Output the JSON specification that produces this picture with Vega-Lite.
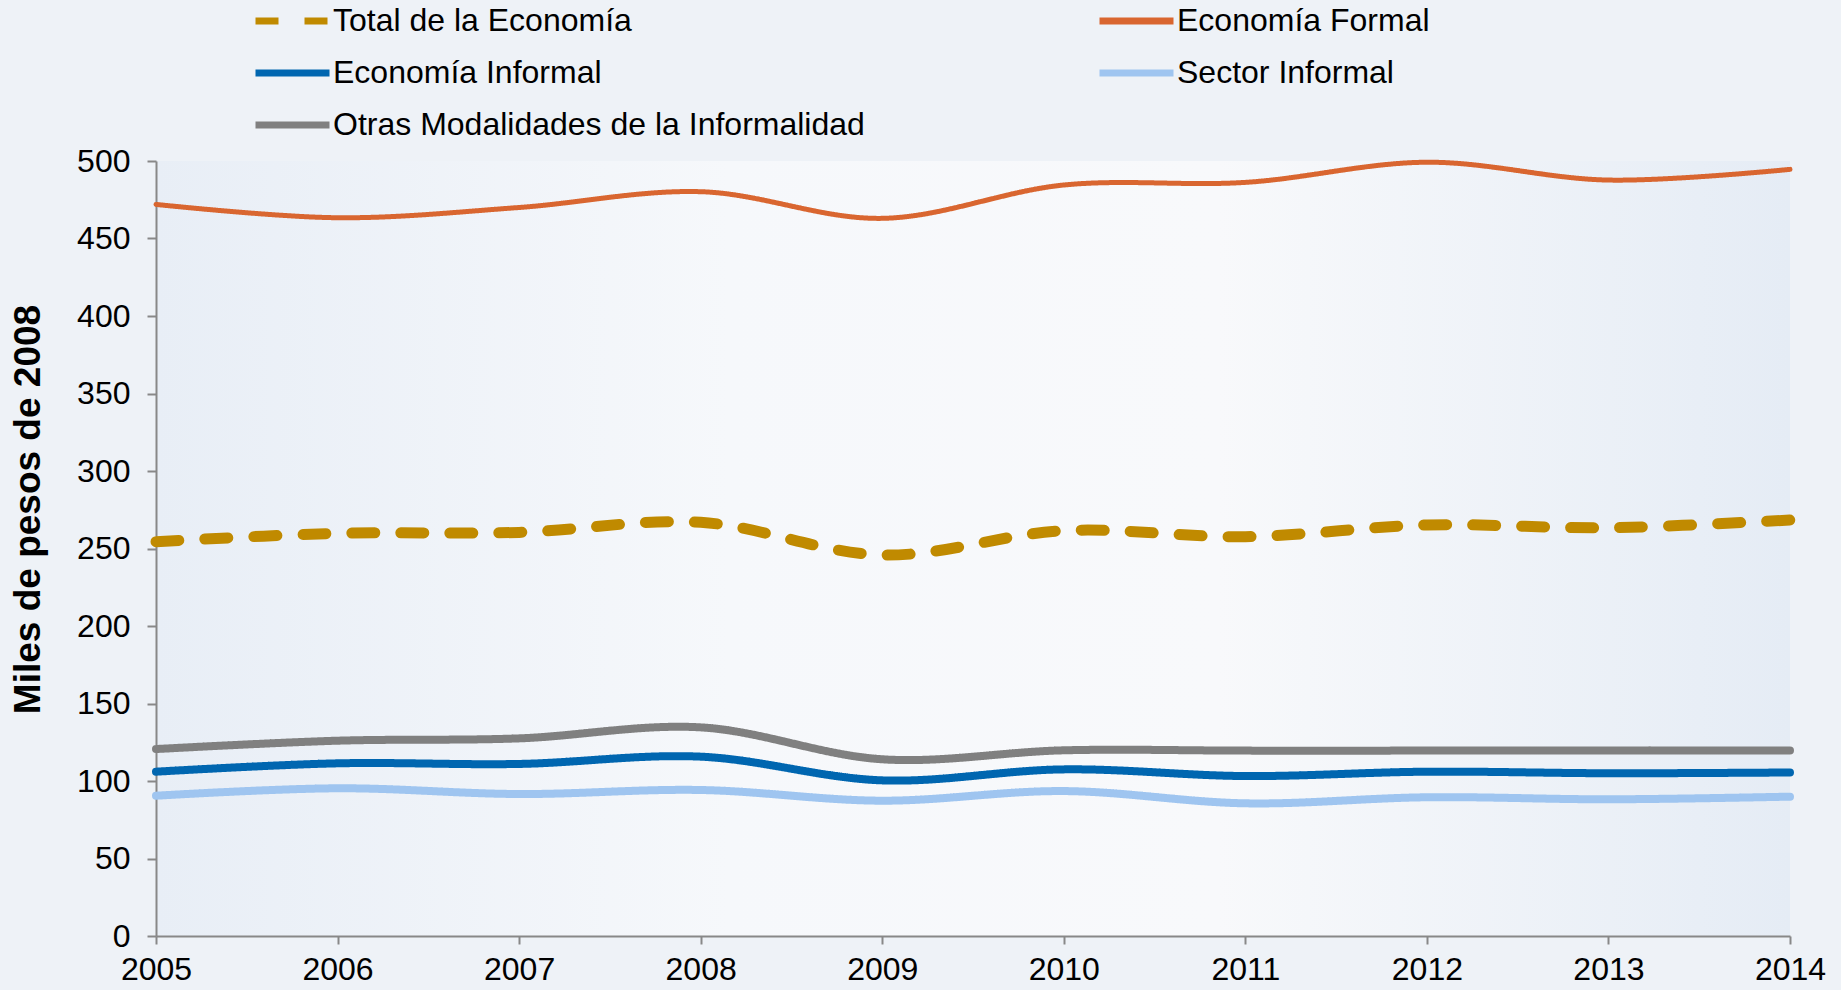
{
  "$schema": "https://vega.github.io/schema/vega-lite/v6.json",
  "width": 1634,
  "height": 775,
  "autosize": {"type": "none"},
  "padding": {"left": 156, "top": 161, "right": 51, "bottom": 54},
  "background": "#eef2f7",
  "config": {
    "font": "Liberation Sans",
    "view": {
      "stroke": null,
      "fill": {"gradient": "linear", "x1": 0, "x2": 1, "y1": 0, "y2": 0,
        "stops": [{"offset": 0, "color": "#e8eef6"}, {"offset": 0.35, "color": "#f6f8fb"}, {"offset": 0.65, "color": "#f8f9fb"}, {"offset": 1, "color": "#e5ecf5"}]}
    }
  },
  "data": {
    "values": [
      {"year": 2005, "series": "Total de la Economía", "value": 254.4},
      {"year": 2006, "series": "Total de la Economía", "value": 259.8},
      {"year": 2007, "series": "Total de la Economía", "value": 260.4},
      {"year": 2008, "series": "Total de la Economía", "value": 266.9},
      {"year": 2009, "series": "Total de la Economía", "value": 245.8},
      {"year": 2010, "series": "Total de la Economía", "value": 261.5},
      {"year": 2011, "series": "Total de la Economía", "value": 257.6},
      {"year": 2012, "series": "Total de la Economía", "value": 265.2},
      {"year": 2013, "series": "Total de la Economía", "value": 263.4},
      {"year": 2014, "series": "Total de la Economía", "value": 268.4},
      {"year": 2005, "series": "Economía Formal", "value": 472.0},
      {"year": 2006, "series": "Economía Formal", "value": 463.4},
      {"year": 2007, "series": "Economía Formal", "value": 470.0},
      {"year": 2008, "series": "Economía Formal", "value": 480.2},
      {"year": 2009, "series": "Economía Formal", "value": 463.0},
      {"year": 2010, "series": "Economía Formal", "value": 484.5},
      {"year": 2011, "series": "Economía Formal", "value": 486.2},
      {"year": 2012, "series": "Economía Formal", "value": 499.2},
      {"year": 2013, "series": "Economía Formal", "value": 487.7},
      {"year": 2014, "series": "Economía Formal", "value": 494.6},
      {"year": 2005, "series": "Economía Informal", "value": 106.0},
      {"year": 2006, "series": "Economía Informal", "value": 111.4},
      {"year": 2007, "series": "Economía Informal", "value": 111.0},
      {"year": 2008, "series": "Economía Informal", "value": 115.7},
      {"year": 2009, "series": "Economía Informal", "value": 100.4},
      {"year": 2010, "series": "Economía Informal", "value": 107.5},
      {"year": 2011, "series": "Economía Informal", "value": 103.2},
      {"year": 2012, "series": "Economía Informal", "value": 106.0},
      {"year": 2013, "series": "Economía Informal", "value": 105.0},
      {"year": 2014, "series": "Economía Informal", "value": 105.5},
      {"year": 2005, "series": "Sector Informal", "value": 90.5},
      {"year": 2006, "series": "Sector Informal", "value": 95.3},
      {"year": 2007, "series": "Sector Informal", "value": 91.6},
      {"year": 2008, "series": "Sector Informal", "value": 94.2},
      {"year": 2009, "series": "Sector Informal", "value": 87.3},
      {"year": 2010, "series": "Sector Informal", "value": 93.5},
      {"year": 2011, "series": "Sector Informal", "value": 85.6},
      {"year": 2012, "series": "Sector Informal", "value": 89.5},
      {"year": 2013, "series": "Sector Informal", "value": 88.2},
      {"year": 2014, "series": "Sector Informal", "value": 89.9},
      {"year": 2005, "series": "Otras Modalidades de la Informalidad", "value": 120.6},
      {"year": 2006, "series": "Otras Modalidades de la Informalidad", "value": 126.0},
      {"year": 2007, "series": "Otras Modalidades de la Informalidad", "value": 127.5},
      {"year": 2008, "series": "Otras Modalidades de la Informalidad", "value": 134.6},
      {"year": 2009, "series": "Otras Modalidades de la Informalidad", "value": 114.0},
      {"year": 2010, "series": "Otras Modalidades de la Informalidad", "value": 119.8},
      {"year": 2011, "series": "Otras Modalidades de la Informalidad", "value": 119.6},
      {"year": 2012, "series": "Otras Modalidades de la Informalidad", "value": 119.6},
      {"year": 2013, "series": "Otras Modalidades de la Informalidad", "value": 119.6},
      {"year": 2014, "series": "Otras Modalidades de la Informalidad", "value": 119.6}
    ]
  },
  "mark": {"type": "line", "interpolate": "cardinal", "strokeCap": "round"},
  "encoding": {
    "x": {
      "field": "year", "type": "quantitative",
      "scale": {"domain": [2005, 2014], "nice": false, "zero": false},
      "axis": {
        "title": null, "values": [2005, 2006, 2007, 2008, 2009, 2010, 2011, 2012, 2013, 2014],
        "format": "d", "grid": false, "labelFontSize": 32, "labelColor": "#000000",
        "labelFlush": false, "labelOverlap": false,
        "domainColor": "#888888", "domainWidth": 2, "tickColor": "#888888", "tickWidth": 2,
        "tickSize": 8, "labelPadding": 10
      }
    },
    "y": {
      "field": "value", "type": "quantitative",
      "scale": {"domain": [0, 500], "nice": false},
      "axis": {
        "title": "Miles de pesos de 2008", "values": [0, 50, 100, 150, 200, 250, 300, 350, 400, 450, 500],
        "grid": false, "labelFontSize": 32, "labelColor": "#000000",
        "domainColor": "#888888", "domainWidth": 2, "tickColor": "#888888", "tickWidth": 2,
        "tickSize": 9, "labelPadding": 17,
        "titleFontSize": 37, "titleFontWeight": "bold", "titleColor": "#000000",
        "titleAngle": -90, "titleX": -128, "titleY": 348, "titleAlign": "center", "titleBaseline": "middle"
      }
    },
    "color": {
      "field": "series", "type": "nominal",
      "scale": {
        "domain": ["Total de la Economía", "Economía Formal", "Economía Informal", "Sector Informal", "Otras Modalidades de la Informalidad"],
        "range": ["#c08a00", "#d96630", "#0066b0", "#9fc5f0", "#808080"]
      },
      "legend": {
        "title": null, "orient": "none", "legendX": 96, "legendY": -160, "direction": "horizontal",
        "columns": 2, "columnPadding": 231, "rowPadding": 12, "clipHeight": 40,
        "symbolType": "stroke", "symbolSize": 5476, "symbolStrokeWidth": 7,
        "labelFontSize": 32, "labelColor": "#000000", "labelOffset": 0, "labelLimit": 800
      }
    },
    "strokeDash": {
      "field": "series", "type": "nominal",
      "scale": {
        "domain": ["Total de la Economía", "Economía Formal", "Economía Informal", "Sector Informal", "Otras Modalidades de la Informalidad"],
        "range": [[23, 26], [1, 0], [1, 0], [1, 0], [1, 0]]
      },
      "legend": {
        "title": null, "orient": "none", "legendX": 96, "legendY": -160, "direction": "horizontal",
        "columns": 2, "columnPadding": 231, "rowPadding": 12, "clipHeight": 40,
        "symbolType": "stroke", "symbolSize": 5476, "symbolStrokeWidth": 7,
        "labelFontSize": 32, "labelColor": "#000000", "labelOffset": 0, "labelLimit": 800
      }
    },
    "strokeWidth": {
      "condition": [
        {"test": "datum.series === 'Total de la Economía'", "value": 11},
        {"test": "datum.series === 'Economía Formal'", "value": 5}
      ],
      "value": 8
    }
  }
}
